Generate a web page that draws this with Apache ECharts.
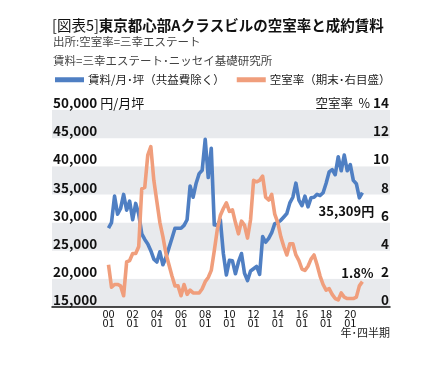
<!DOCTYPE html>
<html>
<head>
<meta charset="utf-8">
<script src="https://cdn.jsdelivr.net/npm/echarts@6/dist/echarts.min.js"></script>
<style>
html,body{margin:0;padding:0;background:#fff;}
#chart{width:445px;height:365px;}
</style>
</head>
<body>
<div id="chart"></div>
<script>
// ---- data (quarterly, 2000Q1 .. 2021Q1) ----
const startYear = 2000;
const rent = [
  29000, 30000, 34700, 31500, 32500, 35000, 32200, 33800,
  30500, 33400, 31500, 28000, 27000, 26200, 25000, 23500,
  23000, 24800, 22500, 23800, 25500, 27200, 29000, 29000,
  29000, 29500, 30500, 36500, 34500, 37000, 38700, 39300,
  44800, 38000, 43200, 29600, 29500, 30500, 24500, 20700,
  23300, 23200, 20900, 23000, 24500, 21000, 19700, 21400,
  21800, 22200, 20800, 27500, 26500, 27200, 28200, 29800,
  30000, 30400, 31000, 31600, 33500, 34500, 37000, 34000,
  33000, 34700, 32800, 34400, 34500, 35000, 34800, 35300,
  37000, 39000, 39400, 38500, 41700, 39200, 42000, 39200,
  40300, 37500, 36900, 34400, 35309
];
const vacancy = [
  3.0, 1.4, 1.6, 1.6, 1.5, 0.8, 3.2, 3.3,
  3.8, 3.8, 4.3, 8.4, 8.5, 10.8, 11.4, 9.0,
  7.5, 6.0, 5.0, 3.8, 3.0, 2.2, 1.5, 1.5,
  0.8, 1.6, 0.9, 1.2, 1.0, 1.0, 1.0, 1.3,
  1.8, 2.1, 2.6, 4.0, 5.5, 6.5, 7.0, 7.4,
  6.8, 6.9, 6.0, 5.2, 6.1, 5.8, 4.9, 6.2,
  9.0, 8.9, 9.0, 9.3, 7.8, 7.6, 8.0, 6.6,
  6.0, 5.0, 4.3, 3.7, 4.5, 4.5, 3.7, 3.3,
  2.7, 2.6, 2.9, 3.4, 3.7, 3.0, 2.2, 1.6,
  1.2, 1.3, 0.9, 0.6, 0.5, 1.0, 0.7, 0.6,
  0.6, 0.6, 0.7, 1.5, 1.8
];
const tickYears = ['00','02','04','06','08','10','12','14','16','18','20'];
const tickQuarter = '01';
const rentTicks = [15000, 20000, 25000, 30000, 35000, 40000, 45000, 50000];
const vacTicks = [0, 2, 4, 6, 8, 10, 12, 14];

const titleText = '東京都心部Aクラスビルの空室率と成約賃料';
const figLabel = '[図表5]';
const source1 = '出所:空室率=三幸エステート';
const source2 = '賃料=三幸エステート･ニッセイ基礎研究所';
const rentName = '賃料/月･坪（共益費除く）';
const vacName = '空室率（期末･右目盛）';
const xName = '年･四半期';

// ---- build ----
const BLUE = '#4f7fc3';
const ORANGE = '#f09e7c';
const FONT = '"Noto Sans CJK JP","Noto Sans",sans-serif';
const tickIdx = tickYears.map(y => (parseInt(y, 10) + 2000 - startYear) * 4);
const rentData = rent.map((v, i) => [i, v]);
const vacData = vacancy.map((v, i) => [i, v]);
const last = rent.length - 1;
const PX_PER_Q = 3.0225;

const chart = echarts.init(document.getElementById('chart'), null, {renderer: 'canvas'});
chart.setOption({
  animation: false,
  textStyle: {fontFamily: FONT},
  graphic: [
    {type: 'text', left: 52, top: 18, style: {
      text: '{a|' + figLabel + '}{b|' + titleText + '}',
      rich: {
        a: {fontSize: 14.5, fontWeight: 'normal', fill: '#111', fontFamily: FONT},
        b: {fontSize: 14.5, fontWeight: 'bold', fill: '#111', fontFamily: FONT}
      }
    }},
    {type: 'text', left: 53, top: 36, style: {text: source1, fontSize: 11.5, fill: '#444', fontFamily: FONT}},
    {type: 'text', left: 53, top: 55, style: {text: source2, fontSize: 11.5, fill: '#444', fontFamily: FONT}},
    {type: 'text', right: 55, top: 327, style: {text: xName, fontSize: 11, fill: '#222', fontFamily: FONT}}
  ],
  legend: {
    left: 50, top: 69, icon: 'rect', itemWidth: 29, itemHeight: 5, itemGap: 12,
    textStyle: {fontSize: 11.5, color: '#222', fontFamily: FONT, padding: [0, 0, 0, -1]},
    data: [rentName, vacName]
  },
  grid: {left: 52, right: 55, top: 110, bottom: 58, containLabel: false},
  xAxis: {
    type: 'value',
    min: -(108.5 - 52) / PX_PER_Q,
    max: (390 - 108.5) / PX_PER_Q,
    axisLine: {show: true, lineStyle: {color: '#111', width: 1.5}},
    axisTick: {show: false},
    splitLine: {show: false},
    axisLabel: {
      customValues: tickIdx,
      formatter: v => tickYears[tickIdx.indexOf(Math.round(v))] + '\n' + tickQuarter,
      fontSize: 11, lineHeight: 8.5, color: '#111', margin: 3, fontFamily: FONT
    }
  },
  yAxis: [
    {
      type: 'value', min: rentTicks[0], max: rentTicks[rentTicks.length - 1], interval: 5000,
      axisLine: {show: false}, axisTick: {show: false},
      splitLine: {show: false},
      splitArea: {show: true, areaStyle: {color: ['#e8eaed', '#ffffff']}},
      axisLabel: {
        inside: true, margin: 1, verticalAlign: 'bottom', showMinLabel: true, showMaxLabel: true,
        fontSize: 13.5, fontWeight: 'bold', color: '#111', fontFamily: FONT, lineHeight: 14,
        formatter: v => {
          const s = v.toLocaleString('en-US');
          return v === rentTicks[rentTicks.length - 1] ? s + ' {u|円/月坪}' : s;
        },
        rich: {u: {fontSize: 13, fontWeight: 'normal', color: '#111', fontFamily: FONT}}
      }
    },
    {
      type: 'value', min: vacTicks[0], max: vacTicks[vacTicks.length - 1], interval: 2,
      position: 'right',
      axisLine: {show: false}, axisTick: {show: false}, splitLine: {show: false},
      axisLabel: {
        inside: true, margin: 1, verticalAlign: 'bottom', showMinLabel: true, showMaxLabel: true,
        fontSize: 13.5, fontWeight: 'bold', color: '#111', fontFamily: FONT, lineHeight: 14,
        formatter: v => v === vacTicks[vacTicks.length - 1] ? '{u|空室率  %} ' + v : String(v),
        rich: {u: {fontSize: 12.5, fontWeight: 'normal', color: '#111', fontFamily: FONT}}
      }
    }
  ],
  series: [
    {
      name: rentName, type: 'line', yAxisIndex: 0, data: rentData,
      showSymbol: false, symbol: 'none',
      lineStyle: {color: BLUE, width: 3.6, join: 'round'}, itemStyle: {color: BLUE},
      markPoint: {
        symbol: 'circle', symbolSize: 1, itemStyle: {color: 'rgba(0,0,0,0)'},
        label: {show: true, position: 'inside', offset: [-16, 18], color: '#111',
          fontSize: 13, fontWeight: 'bold', fontFamily: FONT,
          formatter: () => rent[last].toLocaleString('en-US') + '円'},
        data: [{coord: [last, rent[last]]}]
      }
    },
    {
      name: vacName, type: 'line', yAxisIndex: 1, data: vacData,
      showSymbol: false, symbol: 'none',
      lineStyle: {color: ORANGE, width: 3.6, join: 'round'}, itemStyle: {color: ORANGE},
      markPoint: {
        symbol: 'circle', symbolSize: 1, itemStyle: {color: 'rgba(0,0,0,0)'},
        label: {show: true, position: 'inside', offset: [-5, -9], color: '#111',
          fontSize: 13, fontWeight: 'bold', fontFamily: FONT,
          formatter: () => vacancy[last].toFixed(1) + '%'},
        data: [{coord: [last, vacancy[last]]}]
      }
    }
  ]
});
</script>
</body>
</html>
